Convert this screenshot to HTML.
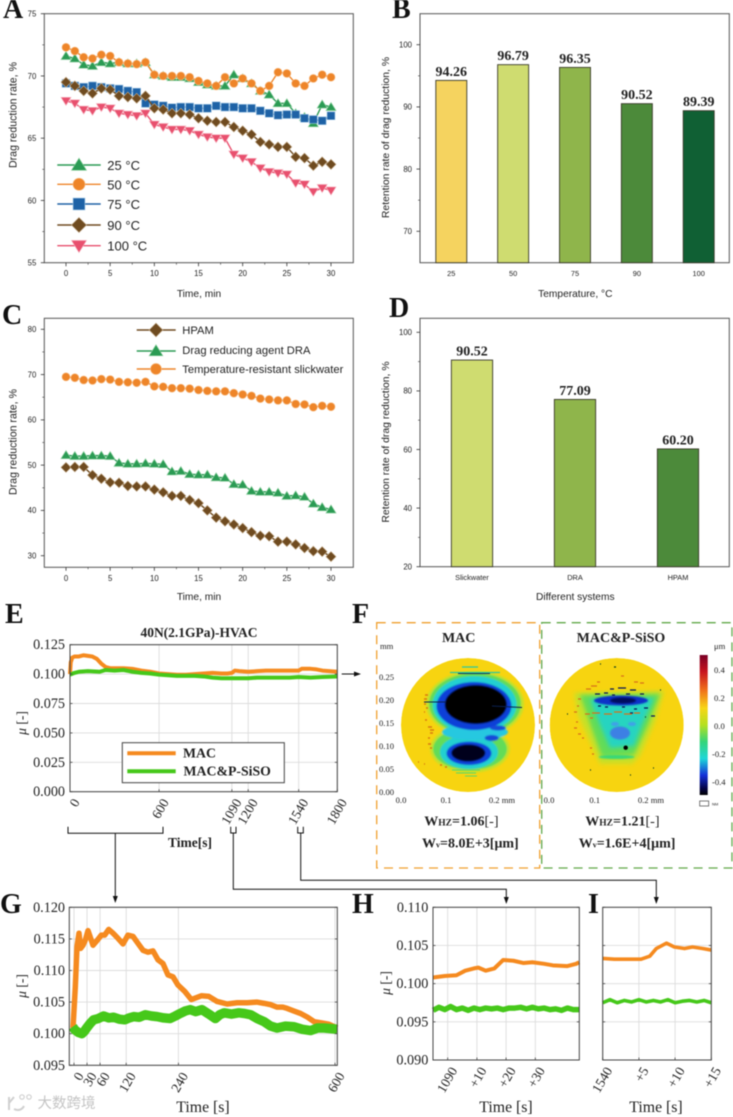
<!DOCTYPE html>
<html lang="en">
<head>
<meta charset="utf-8">
<title>Drag reduction and friction figure</title>
<style>
html,body{margin:0;padding:0;background:#fff;}
#figure{display:block;filter:blur(0.5px);}
.sans{font-family:"Liberation Sans",Arial,sans-serif;fill:#222;}
.serif{font-family:"Liberation Serif","Times New Roman",serif;fill:#222;}
.letter{font-family:"Liberation Serif","Times New Roman",serif;font-weight:bold;font-size:28px;fill:#111;}
.b{font-weight:bold;}
.conn{fill:none;stroke:#111;stroke-width:1;}
</style>
</head>
<body>
<svg id="figure" xmlns="http://www.w3.org/2000/svg" width="733" height="1117" viewBox="0 0 733 1117">
<defs>
<filter id="b05" x="-20%" y="-20%" width="140%" height="140%"><feGaussianBlur stdDeviation="0.7"/></filter>
<filter id="b1" x="-20%" y="-20%" width="140%" height="140%"><feGaussianBlur stdDeviation="1.2"/></filter>
<filter id="b3" x="-20%" y="-20%" width="140%" height="140%"><feGaussianBlur stdDeviation="2.2"/></filter>
<clipPath id="clipL"><circle cx="468" cy="725" r="67"/></clipPath>
<clipPath id="clipR"><circle cx="616.7" cy="725" r="67"/></clipPath>
<linearGradient id="cbar" x1="0" y1="0" x2="0" y2="1">
<stop offset="0" stop-color="#7a0026"/><stop offset=".12" stop-color="#c8141e"/><stop offset=".25" stop-color="#f0701a"/><stop offset=".38" stop-color="#f7d616"/><stop offset=".5" stop-color="#b5e020"/><stop offset=".62" stop-color="#35d57a"/><stop offset=".74" stop-color="#1fd6d8"/><stop offset=".86" stop-color="#1530d8"/><stop offset=".95" stop-color="#05054a"/><stop offset="1" stop-color="#000"/>
</linearGradient>
</defs>
<rect width="733" height="1117" fill="#fff"/>

<text class="letter" x="3" y="18">A</text>
<text class="letter" x="392" y="18">B</text>
<text class="letter" x="2" y="324">C</text>
<text class="letter" x="389" y="317">D</text>
<text class="letter" x="5" y="623">E</text>
<text class="letter" x="352" y="623">F</text>
<text class="letter" x="0" y="913">G</text>
<text class="letter" x="352" y="913">H</text>
<text class="letter" x="588" y="913">I</text>

<!-- Axis titles -->
<text class="sans" font-size="10.6" text-anchor="middle" transform="translate(16.5,115) rotate(-90)">Drag reduction rate, %</text>
<text class="sans" font-size="10.2" text-anchor="middle" x="199" y="297">Time, min</text>
<text class="sans" font-size="10.4" text-anchor="middle" transform="translate(389,137.5) rotate(-90)">Retention rate of drag reduction, %</text>
<text class="sans" font-size="10.2" text-anchor="middle" x="575.3" y="297">Temperature, °C</text>
<text class="sans" font-size="10.6" text-anchor="middle" transform="translate(16.5,442) rotate(-90)">Drag reduction rate, %</text>
<text class="sans" font-size="10.2" text-anchor="middle" x="199" y="600">Time, min</text>
<text class="sans" font-size="10.4" text-anchor="middle" transform="translate(389,442) rotate(-90)">Retention rate of drag reduction, %</text>
<text class="sans" font-size="10.2" text-anchor="middle" x="575.3" y="600">Different systems</text>

<text class="serif b" font-size="13.5" text-anchor="middle" x="199" y="637">40N(2.1GPa)-HVAC</text>
<text class="serif" font-size="13.5" text-anchor="middle" transform="translate(26,723) rotate(-90)"><tspan font-style="italic">μ</tspan> [-]</text>
<text class="serif b" font-size="13.5" text-anchor="middle" x="190" y="847">Time[s]</text>
<text class="serif" font-size="13.5" text-anchor="middle" transform="translate(26,986) rotate(-90)"><tspan font-style="italic">μ</tspan> [-]</text>
<text class="serif" font-size="15.8" text-anchor="middle" x="203" y="1112">Time [s]</text>
<text class="serif" font-size="13.5" text-anchor="middle" transform="translate(390,983) rotate(-90)"><tspan font-style="italic">μ</tspan> [-]</text>
<text class="serif" font-size="15.8" text-anchor="middle" x="506" y="1112">Time [s]</text>
<text class="serif" font-size="15.8" text-anchor="middle" x="656" y="1112">Time [s]</text>

<!-- Connector brackets and arrows -->
<path class="conn" d="M68 826.7V833.3H163V826.7M115.3 833.3V898"/>
<path d="M112.8 896h5l-2.5 7z" fill="#111"/>
<path class="conn" d="M230.7 826.7V833H236V826.7M233.3 833V889.3H506.3V899"/>
<path d="M503.8 897h5l-2.5 7z" fill="#111"/>
<path class="conn" d="M297.7 826.7V833H303.3V826.7M300.7 833V880.3H656.3V899"/>
<path d="M653.8 897h5l-2.5 7z" fill="#111"/>
<path class="conn" d="M341.7 674H355"/>
<path d="M354 671.5v5l7-2.5z" fill="#111"/>

<!-- Panel F static surface maps -->
<g>
<rect x="376.7" y="622.7" width="163" height="245.3" fill="none" stroke="#f0a030" stroke-width="1.3" stroke-dasharray="9 6"/>
<rect x="541.7" y="622.7" width="190.3" height="245.3" fill="none" stroke="#62a84a" stroke-width="1.3" stroke-dasharray="9 6"/>
<text class="serif b" font-size="14" text-anchor="middle" x="458.7" y="642">MAC</text>
<text class="serif b" font-size="14" text-anchor="middle" x="621" y="642">MAC&amp;P-SiSO</text>

<g clip-path="url(#clipL)">
<circle cx="468" cy="725" r="67" fill="#f7d410"/>
<g filter="url(#b05)">
<ellipse cx="475" cy="704" rx="49" ry="33" fill="#c8e028"/>
<ellipse cx="470" cy="749" rx="40" ry="24" fill="#c8e028"/>
<ellipse cx="475" cy="704" rx="46" ry="31" fill="#62dc58"/>
<ellipse cx="470" cy="749" rx="37" ry="21" fill="#62dc58"/>
<ellipse cx="474.6" cy="704.6" rx="42" ry="28.5" fill="#20d0d0"/>
<ellipse cx="469" cy="752" rx="29" ry="17" fill="#20d0d0"/>
<ellipse cx="475" cy="732" rx="33" ry="8" fill="#28c8e0"/>
<ellipse cx="474" cy="706" rx="37.5" ry="24" fill="#1040d8"/>
<ellipse cx="469" cy="753.3" rx="22.5" ry="11.7" fill="#1040d8"/>
<ellipse cx="498" cy="728" rx="8" ry="2.5" fill="#1448d8"/>
<ellipse cx="491.7" cy="738" rx="7" ry="3" fill="#1448d8"/>
<ellipse cx="475.8" cy="704.5" rx="31" ry="19.5" fill="#000"/>
<ellipse cx="468.3" cy="753" rx="17" ry="8.5" fill="#00001c"/>
</g>
<path d="M458 673.5h32M424 702h22M492 706l30 1.5" stroke="#0a2050" stroke-width="1" fill="none"/>
<path d="M450 672.5h50M462 667h16" stroke="#2ac8a0" stroke-width="1.2" fill="none"/>
<path d="M425 695h3M424 699h3M424 704h2M426 708h2M424 712h1M425 720h2M428 727h4M430 730h4M430 733h3M428 738h2M428 744h3M430 748h2M418 762h1M424 764h1M440 765h2M445 767h2" stroke="#d87a10" stroke-width="1.4" fill="none"/>
<path d="M452 770h28M456 773h20M465 776h12" stroke="#5cd868" stroke-width="1" fill="none"/>
</g>

<g clip-path="url(#clipR)">
<circle cx="616.7" cy="725" r="67" fill="#f7d410"/>
<path d="M574 693L664 691L655 722L640 756L632 764L600 764L590 742L578 715Z" fill="#c8e028" filter="url(#b3)"/>
<path d="M580 695L660 694L648 725L634 755L602 757L594 735Z" fill="#62dc58" filter="url(#b3)"/>
<path d="M590 699L654 698L642 725L634 746L610 748L600 725Z" fill="#28d4c0" filter="url(#b3)"/>
<ellipse cx="616.7" cy="757" rx="18" ry="2" fill="#38d878" filter="url(#b05)"/>
<ellipse cx="620" cy="733" rx="10" ry="6.5" fill="#3c80e4" filter="url(#b05)"/>
<ellipse cx="615" cy="724" rx="4" ry="2" fill="#40a0e8" filter="url(#b05)"/>
<ellipse cx="632" cy="724" rx="4" ry="2" fill="#40a0e8" filter="url(#b05)"/>
<ellipse cx="621" cy="700.5" rx="27" ry="5" fill="#1030c8" filter="url(#b05)"/>
<ellipse cx="623" cy="700.5" rx="13" ry="3" fill="#041060" filter="url(#b05)"/>
<path d="M610 689h4M618 688h8M630 690h6M595 694h5M604 693h4M612 695h3M626 694h4M640 694h4M598 706h3M605 707h3M622 707h3M634 709h3M644 708h4M651 716h4M630 713h3" stroke="#06125a" stroke-width="1.2" fill="none"/>
<path d="M586 689h5M591 686h6M597 682h3M634 682h4M640 683h4M621 676h3M585 714h5M592 713h8M604 714h8M614 712h8M624 714h8M634 713h6M590 718h3M578 699h3M577 706h2M574 712h3M576 722h2M574 728h3M578 734h3M582 738h2M590 748h2M592 754h2" stroke="#d8701a" stroke-width="1.3" fill="none"/>
<circle cx="625.7" cy="747.7" r="2.2" fill="#000"/>
<path d="M600 664h1M614 667h2M645 717h1M660 690h1M590 770h1M630 775h1M653 768h1M567 714h1" stroke="#0a3a20" stroke-width="1.2" fill="none"/>
</g>

<g class="serif" font-size="8.6">
<text x="380" y="649">mm</text>
<text x="379" y="680">0.25</text>
<text x="379" y="703">0.20</text>
<text x="379" y="726">0.15</text>
<text x="379" y="749">0.10</text>
<text x="379" y="772">0.05</text>
<text x="379" y="795">0.00</text>
<text x="401" y="803" text-anchor="middle">0.0</text>
<text x="446" y="803" text-anchor="middle">0.1</text>
<text x="502" y="803" text-anchor="middle">0.2 mm</text>
<text x="549" y="803" text-anchor="middle">0.0</text>
<text x="594.7" y="803" text-anchor="middle">0.1</text>
<text x="651" y="803" text-anchor="middle">0.2 mm</text>
</g>

<rect x="699.7" y="655" width="8" height="140" fill="url(#cbar)"/>
<g class="serif" font-size="8.6">
<text x="714" y="649">μm</text>
<text x="714" y="673">0.4</text>
<text x="714" y="701">0.2</text>
<text x="714" y="729">0.0</text>
<text x="712" y="757">-0.2</text>
<text x="712" y="785">-0.4</text>
</g>
<rect x="699.7" y="801" width="9" height="5" fill="#fff" stroke="#444" stroke-width=".7"/>
<text class="sans" x="712" y="805.5" font-size="4">NM</text>

<text class="serif b" x="424.3" y="825.7" font-size="14">W<tspan font-size="9.5">HZ</tspan>=1.06<tspan font-weight="normal">[-]</tspan></text>
<text class="serif b" x="422" y="847.3" font-size="14">W<tspan font-size="8">v</tspan>=8.0E+3[μm]</text>
<text class="serif b" x="585.3" y="825.7" font-size="14">W<tspan font-size="9.5">HZ</tspan>=1.21<tspan font-weight="normal">[-]</tspan></text>
<text class="serif b" x="578.7" y="847.3" font-size="14">W<tspan font-size="8">v</tspan>=1.6E+4[μm]</text>
</g>

<g id="charts"></g>

<!-- Watermark -->
<g>
<path d="M9 1097v13M9 1103l5-6M14 1109c4 2 8 1 10-3" fill="none" stroke="#d0d0d0" stroke-width="2"/>
<circle cx="22" cy="1097" r="2.2" fill="none" stroke="#d0d0d0" stroke-width="1.2"/>
<circle cx="29" cy="1097" r="2.2" fill="none" stroke="#d0d0d0" stroke-width="1.2"/>
<text x="37.5" y="1108" font-size="14.5" fill="#c4c4c4" font-family="'Liberation Sans','Noto Sans CJK SC',sans-serif">大数跨境</text>
</g>

<!-- Legends -->
<g class="sans" font-size="13">
<text x="107.3" y="170">25 °C</text>
<text x="107.3" y="189.5">50 °C</text>
<text x="107.3" y="209">75 °C</text>
<text x="107.3" y="230">90 °C</text>
<text x="107.3" y="250.5">100 °C</text>
</g>
<g class="sans" font-size="11.2">
<text x="182.3" y="334">HPAM</text>
<text x="182.3" y="354">Drag reducing agent DRA</text>
<text x="182.3" y="373">Temperature-resistant slickwater</text>
</g>
<g>
<rect x="122.3" y="742.7" width="162" height="40" fill="#fff" stroke="#444" stroke-width="1"/>
<line x1="127.3" x2="175.7" y1="753.3" y2="753.3" stroke="#f58a1f" stroke-width="4"/>
<line x1="127.3" x2="175.7" y1="771.3" y2="771.3" stroke="#46c81a" stroke-width="4"/>
<text class="serif b" x="183" y="757.5" font-size="13.8">MAC</text>
<text class="serif b" x="183.5" y="775.5" font-size="13.8">MAC&amp;P-SiSO</text>
</g>
<g id="legend-marks"></g>
</svg>

<script>
// ---------- Panel A data ----------
const minutes = [0,1,2,3,4,5,6,7,8,9,10,11,12,13,14,15,16,17,18,19,20,21,22,23,24,25,26,27,28,29,30];
const a25 = [71.6,71.4,70.9,70.8,71.1,71.0,71.1,71.0,71.0,71.1,70.1,70.0,69.9,69.9,69.8,69.5,69.3,69.2,69.2,70.1,69.8,69.4,68.8,68.5,67.8,67.8,67.0,66.7,66.2,67.7,67.5];
const a50 = [72.3,72.0,71.5,71.4,71.7,71.6,71.1,71.0,70.95,71.1,70.1,70.0,70.0,70.0,69.9,69.6,69.4,69.2,69.9,69.4,69.8,69.4,68.8,69.2,70.3,70.2,69.4,69.2,69.8,70.1,69.9];
const a75 = [69.4,69.2,69.1,69.2,69.1,69.0,68.95,68.8,68.7,67.8,67.7,67.6,67.45,67.5,67.5,67.4,67.4,67.6,67.5,67.5,67.4,67.4,67.2,67.0,66.85,66.9,66.9,66.6,66.5,66.4,66.8];
const a90 = [69.5,69.2,68.8,68.6,69.0,68.9,68.4,68.3,68.2,68.4,67.4,67.3,67.0,67.0,66.9,66.6,66.4,66.3,66.3,65.9,65.6,65.3,64.7,64.5,64.3,64.3,63.5,63.4,62.8,63.1,62.9];
const a100 = [68.0,67.8,67.3,67.2,67.5,67.4,67.0,66.9,66.8,67.0,66.1,65.9,65.7,65.7,65.6,65.3,65.1,65.0,65.0,63.7,63.4,63.1,62.6,62.3,62.2,62.1,61.4,61.3,60.7,61.0,60.8];
const minuteTicks = [0,5,10,15,20,25,30];
const aYTicks = [55,60,65,70,75];

// ---------- Panel C data ----------
const cHpam = [49.5,49.6,49.6,47.8,47.0,46.2,46.1,45.4,45.3,45.3,44.6,44.0,43.2,43.2,42.3,41.6,40.0,38.4,37.6,36.9,36.1,35.2,34.4,34.3,33.1,33.1,32.5,31.7,31.0,30.9,29.8];
const cDra = [52.2,52.0,52.0,52.1,52.1,52.0,50.5,50.3,50.3,50.4,50.3,50.2,48.6,48.7,48.0,47.9,47.9,47.3,47.2,45.8,45.7,44.3,44.1,44.1,43.9,43.2,43.3,43.0,41.5,40.7,40.2];
const cSlick = [69.5,69.3,68.8,68.7,69.0,68.9,68.4,68.3,68.2,68.4,67.4,67.3,67.0,67.0,66.9,66.6,66.4,66.3,66.3,65.9,65.6,65.3,64.7,64.5,64.3,64.3,63.5,63.4,62.8,63.1,62.9];
const cYTicks = [30,40,50,60,70,80];

// ---------- Bar data ----------
const bCategories = ['25','50','75','90','100'];
const bValues = [94.26,96.79,96.35,90.52,89.39];
const bLabels = ['94.26','96.79','96.35','90.52','89.39'];
const bYTicks = [70,80,90,100];
const dCategories = ['Slickwater','DRA','HPAM'];
const dValues = [90.52,77.09,60.20];
const dLabels = ['90.52','77.09','60.20'];
const dYTicks = [20,40,60,80,100];

// ---------- Panel E data ----------
const eTimesMac = [0,5,15,30,60,90,120,150,180,210,240,270,300,360,420,480,540,600,660,720,780,840,900,960,1020,1060,1090,1110,1140,1200,1260,1320,1400,1480,1540,1560,1620,1660,1700,1800];
const eMac = [.100,.110,.114,.115,.115,.116,.1155,.115,.113,.109,.106,.105,.105,.105,.1045,.103,.102,.1005,.100,.0995,.0995,.100,.1005,.101,.1005,.1005,.101,.103,.1025,.102,.1025,.103,.103,.103,.103,.1045,.1045,.104,.103,.102];
const eTimesSiso = [0,30,60,120,200,240,300,360,420,480,540,600,660,720,780,840,900,960,1020,1090,1140,1200,1260,1320,1400,1480,1540,1620,1700,1800];
const eSiso = [.0995,.101,.102,.1025,.102,.1035,.103,.1035,.102,.101,.1005,.0995,.099,.0985,.0985,.0985,.098,.097,.0965,.0965,.0965,.0965,.097,.097,.097,.097,.0975,.097,.0975,.098];
const eXTicks = [0,600,1090,1200,1540,1800];
const eYTicks = [0,.025,.05,.075,.1,.125];
const eYLabels = ['0.000','0.025','0.050','0.075','0.100','0.125'];

// ---------- Panel G data ----------
const gTimesMac = [-2.3,3,6.9,11.5,15.3,20.7,26,32.2,38.3,43.7,53.6,62.8,70.5,79.7,89.7,101,112.6,124,135.6,147,158.6,170,181.6,193,204.6,216,227.6,239,254.5,269.7,292.7,310,329,352,375,398,420,437,452,467,480,490,505,521,537,552,570,586,605];
const gMac = [.1009,.1074,.1138,.1159,.1135,.1140,.1148,.1163,.1151,.1140,.1148,.1156,.1156,.1165,.1159,.1151,.1142,.1156,.1154,.1143,.1132,.1129,.1131,.1117,.1111,.1093,.1090,.1077,.1067,.1054,.1060,.1059,.1051,.1047,.1049,.1049,.1050,.1048,.1046,.1042,.1042,.1040,.1036,.1032,.1026,.1019,.1017,.1015,.1009];
const gTimesSiso = [-3,2,10,18,24,29,37,45,56,68,80,91,104,117,127,137,150,164,178,191,206,221,233,244,256,267,280,294,310,325,335,345,362,379,392,406,421,437,452,467,486,506,525,544,560,575,590,605];
const gSiso = [.1011,.1006,.1002,.1000,.1004,.1009,.1016,.1022,.1024,.1028,.1025,.1026,.1023,.1022,.1025,.1027,.1026,.1030,.1028,.1027,.1025,.1024,.1028,.1032,.1036,.1038,.1035,.1038,.1031,.1024,.1030,.1033,.1031,.1033,.1032,.1030,.1024,.1019,.1012,.1009,.1012,.1011,.1007,.1005,.1009,.1009,.1008,.1007];
const gXTicks = [0,30,60,120,240,600];
const gYTicks = [.095,.1,.105,.11,.115,.12];
const gYLabels = ['0.095','0.100','0.105','0.110','0.115','0.120'];

// ---------- Panel H data ----------
const hTimesMac = [1085,1089,1093,1096,1099,1100.5,1103,1106,1109,1112.5,1116,1119,1123,1126,1131,1134,1135];
const hMac = [.1008,.1010,.1011,.1017,.1020,.1021,.1017,.1020,.1031,.1030,.1027,.1028,.1026,.1024,.1023,.1026,.1028];
const hTimesSiso = [1085,1087,1089,1091,1093,1095,1097,1099,1101,1103,1105,1107,1109,1111,1113,1115,1117,1119,1121,1123,1125,1127,1129,1131,1133,1135];
const hSiso = [.0965,.0969,.0966,.0970,.0966,.0968,.0965,.0968,.0966,.0968,.0967,.0968,.0966,.0968,.0968,.0969,.0967,.0969,.0967,.0968,.0966,.0967,.0965,.0968,.0966,.0966];
const hXTicks = [1090,1100,1110,1120];
const hXLabels = ['1090','+10','+20','+30'];
const hYTicks = [.09,.095,.1,.105,.11];
const hYLabels = ['0.090','0.095','0.100','0.105','0.110'];

// ---------- Panel I data ----------
const iTimesMac = [1540,1541.6,1543.7,1545.3,1546.5,1547.4,1548.8,1549.9,1551.3,1552.4,1553.8,1555];
const iMac = [.1033,.1032,.1032,.1032,.1036,.1046,.1053,.1048,.1046,.1048,.1046,.1044];
const iTimesSiso = [1540,1541,1542,1543,1544,1545,1546,1547,1548,1549,1550,1551,1552,1553,1554,1555];
const iSiso = [.0975,.0979,.0975,.0978,.0976,.0979,.0976,.0978,.0976,.0979,.0975,.0977,.0978,.0976,.0978,.0975];
const iXTicks = [1540,1545,1550,1555];
const iXLabels = ['1540','+5','+10','+15'];

// ---------- Helpers ----------
const NS = 'http://www.w3.org/2000/svg';
const root = document.getElementById('charts');
const legendRoot = document.getElementById('legend-marks');

function el(tag, name, attrs, parent, text) {
  const n = document.createElementNS(NS, tag);
  
  
  for (const k in attrs) n.setAttribute(k, attrs[k]);
  if (text !== undefined) n.textContent = text;
  parent.appendChild(n);
  return n;
}
function scale(d0, d1, r0, r1) {
  return function (v) { return r0 + (v - d0) * (r1 - r0) / (d1 - d0); };
}
function poly(pts) {
  return pts.map(function (p) { return p[0].toFixed(2) + ',' + p[1].toFixed(2); }).join(' ');
}

function marker(kind, cx, cy, s, fill, edge, parent, name) {
  const a = { fill: fill, stroke: edge, 'stroke-width': 0.6 };
  if (kind === 'circle') {
    a.cx = cx; a.cy = cy; a.r = s * 0.92;
    return el('circle', name, a, parent);
  }
  let pts;
  if (kind === 'up') pts = [[cx, cy - s * 1.05], [cx + s * 1.15, cy + s * 0.8], [cx - s * 1.15, cy + s * 0.8]];
  if (kind === 'down') pts = [[cx, cy + s * 1.05], [cx + s * 1.15, cy - s * 0.8], [cx - s * 1.15, cy - s * 0.8]];
  if (kind === 'square') pts = [[cx - s * 0.9, cy - s * 0.9], [cx + s * 0.9, cy - s * 0.9], [cx + s * 0.9, cy + s * 0.9], [cx - s * 0.9, cy + s * 0.9]];
  if (kind === 'diamond') pts = [[cx, cy - s * 1.15], [cx + s * 1.15, cy], [cx, cy + s * 1.15], [cx - s * 1.15, cy]];
  a.points = poly(pts);
  return el('polygon', name, a, parent);
}

function originFrame(g, box, prefix) {
  el('rect', prefix + '-plot-frame', { x: box.l, y: box.t, width: box.r - box.l, height: box.b - box.t, fill: 'none', stroke: '#555', 'stroke-width': 1 }, g);
}
function originY(g, box, sy, ticks, labels, prefix) {
  ticks.forEach(function (v, i) {
    const y = sy(v);
    el('line', prefix + '-y-tick', { x1: box.l - 3.5, x2: box.l, y1: y, y2: y, stroke: '#333', 'stroke-width': 0.8 }, g);
    el('text', prefix + '-y-tick-label', { x: box.l - 8, y: y + 2.8, 'text-anchor': 'end', 'font-size': 7.8, class: 'sans' }, g, labels[i]);
    if (i < ticks.length - 1) {
      const m = sy((v + ticks[i + 1]) / 2);
      el('line', prefix + '-y-minor-tick', { x1: box.l - 2, x2: box.l, y1: m, y2: m, stroke: '#333', 'stroke-width': 0.6 }, g);
    }
  });
}

function lineChart(prefix, box, sx, sy, yTicks, series) {
  const g = el('g', prefix + '-chart', {}, root);
  originFrame(g, box, prefix);
  originY(g, box, sy, yTicks, yTicks.map(String), prefix);
  minuteTicks.forEach(function (t, i) {
    const x = sx(t);
    el('line', prefix + '-x-tick', { x1: x, x2: x, y1: box.b, y2: box.b + 3.5, stroke: '#333', 'stroke-width': 0.8 }, g);
    el('text', prefix + '-x-tick-label', { x: x, y: box.b + 13.5, 'text-anchor': 'middle', 'font-size': 7.8, class: 'sans' }, g, String(t));
    if (i < minuteTicks.length - 1) {
      const mx = sx(t + 2.5);
      el('line', prefix + '-x-minor-tick', { x1: mx, x2: mx, y1: box.b, y2: box.b + 2, stroke: '#333', 'stroke-width': 0.6 }, g);
    }
  });
  series.forEach(function (s) {
    const sg = el('g', prefix + '-series-' + s.id, {}, g);
    const pts = minutes.map(function (t, i) { return [sx(t), sy(s.values[i])]; });
    el('polyline', prefix + '-line-' + s.id, { points: poly(pts), fill: 'none', stroke: s.color, 'stroke-width': 1.4 }, sg);
    pts.forEach(function (p) {
      marker(s.kind, p[0], p[1], 4.4, s.color, s.edge, sg, prefix + '-point-' + s.id);
    });
  });
}

function barChart(prefix, box, sy, yTicks, cats, vals, labels, centers, width, colors) {
  const g = el('g', prefix + '-chart', {}, root);
  originFrame(g, box, prefix);
  originY(g, box, sy, yTicks, yTicks.map(String), prefix);
  cats.forEach(function (c, i) {
    const cx = centers(i);
    const top = sy(vals[i]);
    el('rect', prefix + '-bar-' + c, { x: cx - width / 2, y: top, width: width, height: box.b - top, fill: colors[i], stroke: '#3a3a2a', 'stroke-width': 0.9 }, g);
    el('text', prefix + '-bar-value-' + c, { x: cx, y: top - 4.5, 'text-anchor': 'middle', 'font-size': 14, class: 'serif b' }, g, labels[i]);
    el('text', prefix + '-x-tick-label-' + c, { x: cx, y: box.b + 13.5, 'text-anchor': 'middle', 'font-size': 7.4, class: 'sans' }, g, c);
  });
}

function frictionChart(prefix, box, sx, sy, xTicks, xLabels, yTicks, yLabels, series, yLabelRight) {
  const g = el('g', prefix + '-chart', {}, root);
  el('rect', prefix + '-plot-background', { x: box.l, y: box.t, width: box.r - box.l, height: box.b - box.t, fill: '#fff' }, g);
  xTicks.forEach(function (t) {
    const x = sx(t);
    el('line', prefix + '-x-gridline', { x1: x, x2: x, y1: box.t, y2: box.b, stroke: '#dcdcdc', 'stroke-width': 0.9 }, g);
  });
  yTicks.forEach(function (v) {
    const y = sy(v);
    el('line', prefix + '-y-gridline', { x1: box.l, x2: box.r, y1: y, y2: y, stroke: '#dcdcdc', 'stroke-width': 0.9 }, g);
  });
  series.forEach(function (s) {
    const pts = s.times.map(function (t, i) { return [sx(t), sy(s.values[i])]; });
    el('polyline', prefix + '-line-' + s.id, { points: poly(pts), fill: 'none', stroke: s.color, 'stroke-width': s.width, 'stroke-linejoin': 'round' }, g);
  });
  el('rect', prefix + '-plot-frame', { x: box.l, y: box.t, width: box.r - box.l, height: box.b - box.t, fill: 'none', stroke: '#444', 'stroke-width': 1 }, g);
  yTicks.forEach(function (v, i) {
    const y = sy(v);
    el('line', prefix + '-y-tick', { x1: box.l, x2: box.l + 2.5, y1: y, y2: y, stroke: '#444', 'stroke-width': 0.8 }, g);
    el('line', prefix + '-y-tick-right', { x1: box.r - 2.5, x2: box.r, y1: y, y2: y, stroke: '#444', 'stroke-width': 0.8 }, g);
    if (yLabels) el('text', prefix + '-y-tick-label', { x: yLabelRight, y: y + 4.5, 'text-anchor': 'end', 'font-size': 14.2, class: 'serif' }, g, yLabels[i]);
  });
  xTicks.forEach(function (t, i) {
    const x = sx(t);
    el('line', prefix + '-x-tick', { x1: x, x2: x, y1: box.b - 2.5, y2: box.b, stroke: '#444', 'stroke-width': 0.8 }, g);
    el('text', prefix + '-x-tick-label', { 'text-anchor': 'end', 'font-size': 13.5, class: 'serif', transform: 'translate(' + (x + 6) + ',' + (box.b + 8) + ') rotate(-60)', dy: '0.35em' }, g, xLabels[i]);
  });
}

// ---------- Panel A ----------
const aBox = { l: 44.3, r: 353.3, t: 13.7, b: 262.7 };
const aX = scale(0, 30, 66, 331);
const aY = scale(55, 75, 262.7, 13.7);
lineChart('a', aBox, aX, aY, aYTicks, [
  { id: '25c', values: a25, color: '#2b9b54', edge: '#8fd0a0', kind: 'up' },
  { id: '50c', values: a50, color: '#ee8529', edge: '#f8c08c', kind: 'circle' },
  { id: '75c', values: a75, color: '#1e62a6', edge: '#9cc4e4', kind: 'square' },
  { id: '90c', values: a90, color: '#6f4b20', edge: '#c8b090', kind: 'diamond' },
  { id: '100c', values: a100, color: '#e8506e', edge: '#f8b8c4', kind: 'down' }
]);

// ---------- Panel C ----------
const cBox = { l: 44.3, r: 353.3, t: 318.3, b: 567.3 };
const cY = scale(30, 80, 555.7, 329.3);
lineChart('c', cBox, aX, cY, cYTicks, [
  { id: 'hpam', values: cHpam, color: '#6f4b20', edge: '#c8b090', kind: 'diamond' },
  { id: 'dra', values: cDra, color: '#2b9b54', edge: '#8fd0a0', kind: 'up' },
  { id: 'slickwater', values: cSlick, color: '#ee8529', edge: '#f8c08c', kind: 'circle' }
]);

// ---------- Panel B ----------
const bBox = { l: 420, r: 729.3, t: 13.7, b: 262.7 };
const bY = scale(70, 100, 231.3, 44.7);
barChart('b', bBox, bY, bYTicks, bCategories, bValues, bLabels, function (i) { return 451.3 + i * 61.85; }, 31, ['#f5d35f', '#cfdc70', '#8fb54b', '#4c8a3a', '#106034']);

// ---------- Panel D ----------
const dBox = { l: 420, r: 729.3, t: 318.3, b: 566.7 };
const dY = scale(20, 100, 566.7, 332.3);
barChart('d', dBox, dY, dYTicks, dCategories, dValues, dLabels, function (i) { return 472 + i * 103; }, 41.3, ['#cfdc70', '#8fb54b', '#4c8a3a']);

// ---------- Friction panels ----------
const macColor = '#f58a1f';
const sisoColor = '#46c81a';
const eBox = { l: 70, r: 337.3, t: 644.7, b: 791.7 };
frictionChart('e', eBox, scale(0, 1800, 70, 337.3), scale(0, .125, 791.7, 644.7), eXTicks, eXTicks.map(String), eYTicks, eYLabels, [
  { id: 'mac', times: eTimesMac, values: eMac, color: macColor, width: 4 },
  { id: 'mac-siso', times: eTimesSiso, values: eSiso, color: sisoColor, width: 4 }
], 65);

const gBox = { l: 69.3, r: 337.3, t: 907.3, b: 1065.3 };
frictionChart('g', gBox, scale(0, 600, 74, 335), scale(.095, .12, 1065.3, 907.3), gXTicks, gXTicks.map(String), gYTicks, gYLabels, [
  { id: 'mac', times: gTimesMac, values: gMac, color: macColor, width: 5.5 },
  { id: 'mac-siso', times: gTimesSiso, values: gSiso, color: sisoColor, width: 9.5 }
], 65);

const hBox = { l: 433, r: 579.3, t: 907.3, b: 1060 };
frictionChart('h', hBox, scale(1090, 1120, 447.7, 535.3), scale(.09, .11, 1060, 907.3), hXTicks, hXLabels, hYTicks, hYLabels, [
  { id: 'mac', times: hTimesMac, values: hMac, color: macColor, width: 4 },
  { id: 'mac-siso', times: hTimesSiso, values: hSiso, color: sisoColor, width: 5.5 }
], 428.3);

const iBox = { l: 602.7, r: 711.3, t: 907.3, b: 1060 };
frictionChart('i', iBox, scale(1540, 1555, 602.7, 711.3), scale(.09, .11, 1060, 907.3), iXTicks, iXLabels, hYTicks, null, [
  { id: 'mac', times: iTimesMac, values: iMac, color: macColor, width: 3.6 },
  { id: 'mac-siso', times: iTimesSiso, values: iSiso, color: sisoColor, width: 3.6 }
], 0);

// ---------- Legend lines and markers ----------
[[165, 'up', '#2b9b54', '#8fd0a0', '25c'], [184.3, 'circle', '#ee8529', '#f8c08c', '50c'], [204, 'square', '#1e62a6', '#9cc4e4', '75c'], [225, 'diamond', '#6f4b20', '#c8b090', '90c'], [245.7, 'down', '#e8506e', '#f8b8c4', '100c']].forEach(function (r) {
  el('line', 'legend-a-line-' + r[4], { x1: 57.3, x2: 100.7, y1: r[0], y2: r[0], stroke: r[2], 'stroke-width': 1.4 }, legendRoot);
  marker(r[1], 79, r[0], 6.6, r[2], r[3], legendRoot, 'legend-a-marker-' + r[4]);
});
[[330, 'diamond', '#6f4b20', '#c8b090', 'hpam'], [351, 'up', '#2b9b54', '#8fd0a0', 'dra'], [369, 'circle', '#ee8529', '#f8c08c', 'slickwater']].forEach(function (r) {
  el('line', 'legend-c-line-' + r[4], { x1: 136.7, x2: 175.7, y1: r[0], y2: r[0], stroke: r[2], 'stroke-width': 1.4 }, legendRoot);
  marker(r[1], 156, r[0], 6, r[2], r[3], legendRoot, 'legend-c-marker-' + r[4]);
});
</script>
</body>
</html>
